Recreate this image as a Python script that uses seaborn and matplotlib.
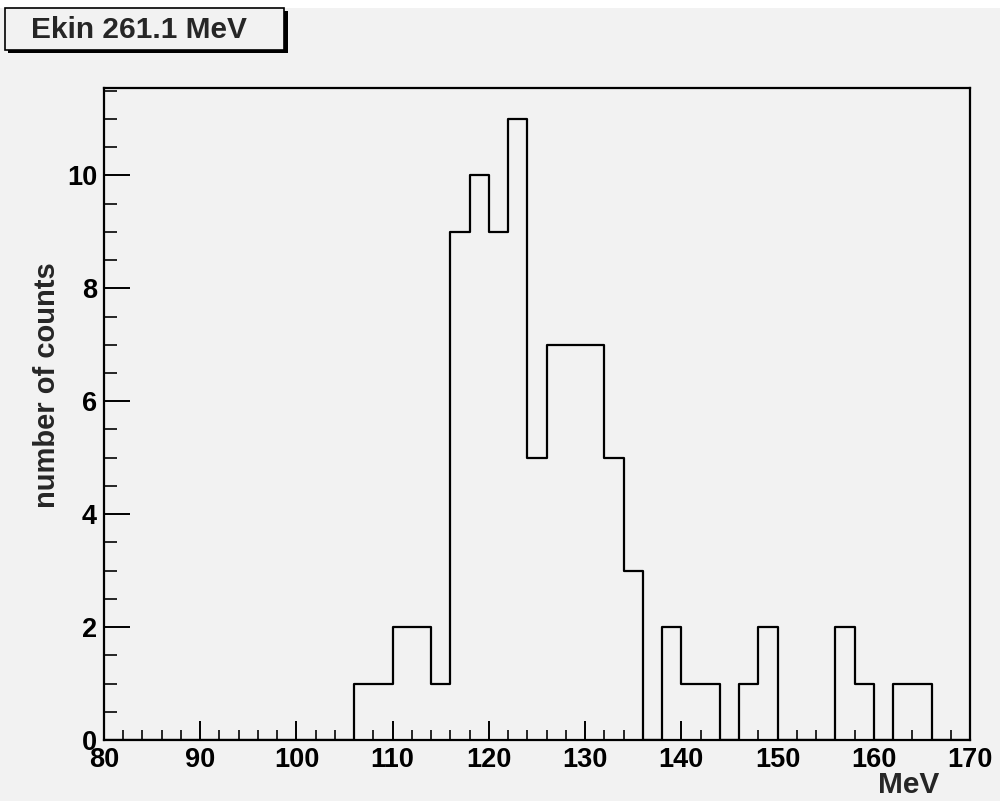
import numpy as np
import pandas as pd
import matplotlib
matplotlib.use("Agg")
import matplotlib.pyplot as plt
from matplotlib.patches import Rectangle
from matplotlib.ticker import MultipleLocator
import seaborn as sns

# Histogram contents: 2 MeV bins over 80-170 MeV (only non-empty bins listed)
bin_centers = [107, 109, 111, 113, 115, 117, 119, 121, 123, 125, 127, 129, 131,
               133, 135, 139, 141, 143, 147, 149, 157, 159, 163, 165]
bin_counts = [1, 1, 2, 2, 1, 9, 10, 9, 11, 5, 7, 7, 7,
              5, 3, 2, 1, 1, 1, 2, 2, 1, 1, 1]
bin_width = 2
x_range = (80, 170)

title_text = "Ekin 261.1 MeV"
x_label = "MeV"
y_label = "number of counts"

df = pd.DataFrame({"energy": bin_centers, "counts": bin_counts})

sns.set_theme(style="ticks")
plt.rcParams["font.family"] = ["Liberation Sans", "DejaVu Sans"]
plt.rcParams["font.weight"] = "bold"

bg = "#f2f2f2"
fig = plt.figure(figsize=(10.0, 8.01), dpi=100, facecolor=bg)
ax = fig.add_axes([0.104, 0.0762, 0.866, 0.814])
ax.set_facecolor(bg)

sns.histplot(data=df, x="energy", weights="counts", binwidth=bin_width,
             binrange=x_range, element="step", fill=False, color="black",
             linewidth=1.6, ax=ax)

ax.set_xlim(*x_range)
ax.set_ylim(0, 11.55)
ax.xaxis.set_major_locator(MultipleLocator(10))
ax.xaxis.set_minor_locator(MultipleLocator(2))
ax.yaxis.set_major_locator(MultipleLocator(2))
ax.yaxis.set_minor_locator(MultipleLocator(0.5))

ax.tick_params(axis="x", which="major", direction="in", length=13.5, width=1.4,
               labelsize=19.5, pad=5, top=False, colors="black")
ax.tick_params(axis="x", which="minor", direction="in", length=7, width=1.4, top=False)
ax.tick_params(axis="y", which="major", direction="in", length=18.5, width=1.4,
               labelsize=19.5, pad=5, right=False, colors="black")
ax.tick_params(axis="y", which="minor", direction="in", length=9.5, width=1.4, right=False)
for lab in ax.get_xticklabels() + ax.get_yticklabels():
    lab.set_fontweight("bold")

for sp in ax.spines.values():
    sp.set_color("black")
    sp.set_linewidth(1.6)

ax.set_xlabel("")
ax.set_ylabel("")
fig.text(0.939, 0.003, x_label, ha="right", va="bottom", fontsize=21.5,
         fontweight="bold")
fig.text(0.047, 0.519, y_label, ha="center", va="center", rotation=90,
         fontsize=21, fontweight="bold")

# White strip along the top edge of the canvas
fig.patches.append(Rectangle((0, 0.990), 1, 0.010, transform=fig.transFigure,
                             facecolor="white", edgecolor="none", zorder=0))

# Title box with drop shadow
W, H = 1000.0, 801.0
fig.patches.append(Rectangle((8 / W, 1 - 53 / H), 280 / W, 42 / H,
                             transform=fig.transFigure, facecolor="black",
                             edgecolor="none", zorder=2))
fig.patches.append(Rectangle((5 / W, 1 - 50 / H), 279 / W, 42 / H,
                             transform=fig.transFigure, facecolor=bg,
                             edgecolor="black", linewidth=1.2, zorder=3))
fig.text(139 / W, 1 - 30 / H, title_text, ha="center", va="center",
         fontsize=21.5, fontweight="bold", zorder=4)

fig.savefig("out.png", dpi=100, facecolor=bg)
